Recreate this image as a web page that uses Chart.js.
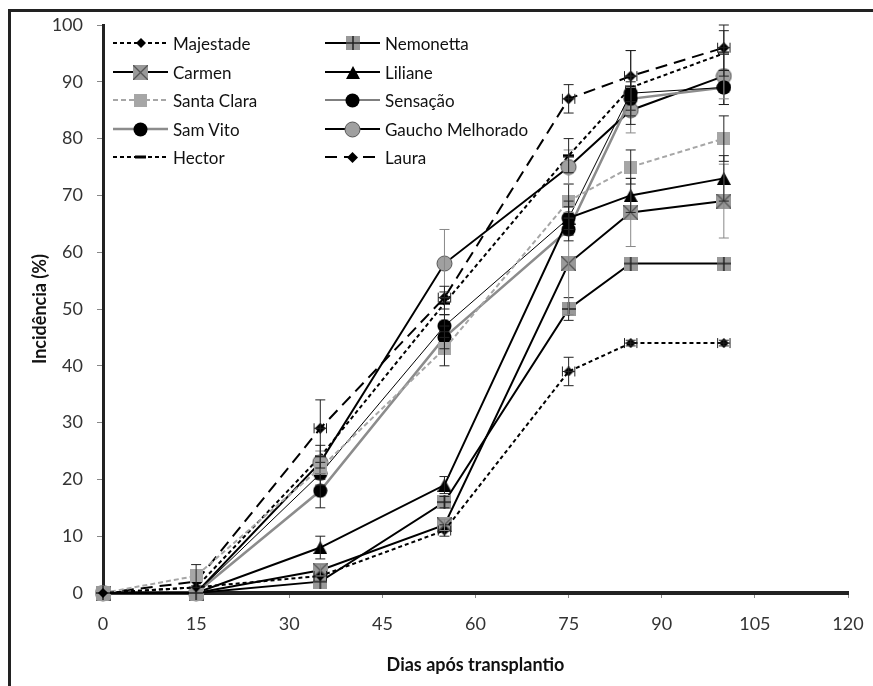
<!DOCTYPE html>
<html>
<head>
<meta charset="utf-8">
<script src="https://cdn.jsdelivr.net/npm/chart.js@4"></script>
<style>
  html, body { margin: 0; padding: 0; background: #fff; }
  #wrap { position: relative; width: 873px; height: 686px; overflow: hidden; }
  #frame { position: absolute; left: 8px; top: 9px; width: 900px; height: 700px;
           border-left: 3px solid #222; border-top: 3px solid #222; box-sizing: border-box; }
  #c { position: absolute; left: 0; top: 0; }
  .lg { position: absolute; height: 20px; display: flex; align-items: center;
        font-family: Lato, "Open Sans", sans-serif; font-size: 17px; color: #111; white-space: nowrap; }
  .lg canvas { margin-right: 5px; }
</style>
</head>
<body>
<div id="wrap">
  <div id="frame"></div>
  <canvas id="c" width="873" height="686"></canvas>
  <div id="legend"></div>
</div>
<script>
// ---------- data ----------
const days = [0, 15, 35, 55, 75, 85, 100];
const xTicks = [0, 15, 30, 45, 60, 75, 90, 105, 120];
const yTicks = [0, 10, 20, 30, 40, 50, 60, 70, 80, 90, 100];

const majestade     = [0, 1, 3, 11, 39, 44, 44];
const nemonetta     = [0, 0, 2, 16, 50, 58, 58];
const carmen        = [0, 0, 4, 12, 58, 67, 69];
const liliane       = [0, 0, 8, 19, 66, 70, 73];
const santaClara    = [0, 3, 22, 43, 69, 75, 80];
const sensacao      = [0, 0, 21, 47, 66, 88, 89];
const samVito       = [0, 0, 18, 45, 64, 87, 89];
const gaucho        = [0, 0, 23, 58, 75, 85, 91];
const hector        = [0, 1, 24, 51, 77, 89, 95];
const laura         = [0, 2, 29, 52, 87, 91, 96];

const majestadeErr  = [0, 0, 0, 1, 2.5, 0.5, 0.5];
const nemonettaErr  = [0, 0, 0, 1, 2, 0, 0];
const carmenErr     = [0, 0, 1, 1, 9, 6, 6.5];
const lilianeErr    = [0, 0, 2, 1.5, 3, 3, 4];
const santaClaraErr = [0, 2, 2, 3, 3, 3, 4];
const sensacaoErr   = [0, 0, 2, 2, 2, 3, 3];
const samVitoErr    = [0, 0, 3, 2, 2, 3, 3];
const gauchoErr     = [0, 0, 2, 6, 3, 4, 4];
const hectorErr     = [0, 0, 2, 2, 3, 6.5, 4];
const lauraErr      = [0, 0, 5, 2, 2.5, 4.5, 4];
const majestadeXErr = [0, 0, 1, 1, 1, 1, 1];
const lauraXErr     = [0, 0, 1, 1, 1, 1, 1];

const names = ['Majestade', 'Nemonetta', 'Carmen', 'Liliane', 'Santa Clara',
               'Sensação', 'Sam Vito', 'Gaucho Melhorado', 'Hector', 'Laura'];

// ---------- markers ----------
function mk(w, h, draw) {
  const c = document.createElement('canvas');
  c.width = w; c.height = h;
  draw(c.getContext('2d'), w, h);
  return c;
}
const diamond = (s) => mk(s, s, (g, w, h) => {
  g.fillStyle = '#000'; g.beginPath();
  g.moveTo(w / 2, 0); g.lineTo(w, h / 2); g.lineTo(w / 2, h); g.lineTo(0, h / 2); g.closePath(); g.fill();
});
const sqPlus = mk(14, 14, (g, w, h) => {
  g.fillStyle = '#999'; g.fillRect(0, 0, w, h);
  g.strokeStyle = '#222'; g.lineWidth = 1.5; g.beginPath();
  g.moveTo(w / 2, 0); g.lineTo(w / 2, h); g.moveTo(0, h / 2); g.lineTo(w, h / 2); g.stroke();
});
const sqX = mk(15, 15, (g, w, h) => {
  g.fillStyle = '#999'; g.fillRect(0, 0, w, h);
  g.strokeStyle = '#555'; g.lineWidth = 1.3; g.beginPath();
  g.moveTo(0, 0); g.lineTo(w, h); g.moveTo(w, 0); g.lineTo(0, h); g.stroke();
});
const sqGray = mk(13, 13, (g, w, h) => { g.fillStyle = '#a6a6a6'; g.fillRect(0, 0, w, h); });
const circBlack = mk(15, 15, (g, w, h) => {
  g.fillStyle = '#000'; g.beginPath(); g.arc(w / 2, h / 2, 7, 0, Math.PI * 2); g.fill();
});
const circGray = mk(17, 17, (g, w, h) => {
  g.fillStyle = '#a0a0a0'; g.strokeStyle = '#555'; g.lineWidth = 1;
  g.beginPath(); g.arc(w / 2, h / 2, 7.5, 0, Math.PI * 2); g.fill(); g.stroke();
});
const tri = mk(14, 13, (g, w, h) => {
  g.fillStyle = '#000'; g.beginPath();
  g.moveTo(w / 2, 0); g.lineTo(w, h); g.lineTo(0, h); g.closePath(); g.fill();
});
const dash = mk(11, 4, (g, w, h) => { g.fillStyle = '#000'; g.fillRect(0, 0.5, w, 3); });

const styles = [
  { c: '#000', w: 2,   d: [4, 3],  m: diamond(10), e: '#222' },
  { c: '#000', w: 2,   d: [],      m: sqPlus,      e: '#222' },
  { c: '#000', w: 2,   d: [],      m: sqX,         e: '#888' },
  { c: '#000', w: 2,   d: [],      m: tri,         e: '#222' },
  { c: '#a6a6a6', w: 2, d: [5, 3], m: sqGray,      e: '#222' },
  { c: '#000', w: 1,   d: [],      m: circBlack,   e: '#222' },
  { c: '#8c8c8c', w: 2.5, d: [],   m: circBlack,   e: '#222' },
  { c: '#000', w: 2,   d: [],      m: circGray,    e: '#888' },
  { c: '#000', w: 2,   d: [4, 3],  m: dash,        e: '#222' },
  { c: '#000', w: 2,   d: [12, 7], m: diamond(11), e: '#222' },
];
const seriesVals = [majestade, nemonetta, carmen, liliane, santaClara, sensacao, samVito, gaucho, hector, laura];
const seriesErr = [majestadeErr, nemonettaErr, carmenErr, lilianeErr, santaClaraErr, sensacaoErr, samVitoErr, gauchoErr, hectorErr, lauraErr];
const seriesXErr = [majestadeXErr, null, null, null, null, null, null, null, null, lauraXErr];

const datasets = names.map((n, k) => ({
  label: n,
  data: days.map((d, i) => ({ x: d, y: seriesVals[k][i] })),
  borderColor: styles[k].c,
  borderWidth: styles[k].w,
  borderDash: styles[k].d,
  pointStyle: styles[k].m,
  pointRadius: 7,
  tension: 0,
  fill: false,
  clip: false,
  yErr: seriesErr[k],
  xErr: seriesXErr[k],
  errColor: styles[k].e,
}));

// ---------- error bars plugin ----------
const errorBars = {
  id: 'errorBars',
  afterDatasetsDraw(chart) {
    const { ctx, chartArea: a, scales: { x, y } } = chart;
    ctx.save();
    ctx.beginPath(); ctx.rect(a.left, a.top - 1, a.right - a.left, a.bottom - a.top + 2); ctx.clip();
    ctx.lineWidth = 1;
    chart.data.datasets.forEach(ds => {
      ctx.strokeStyle = ds.errColor;
      ds.data.forEach((p, i) => {
        const px = x.getPixelForValue(p.x), py = y.getPixelForValue(p.y);
        const e = ds.yErr ? ds.yErr[i] : 0;
        if (e) {
          const y1 = y.getPixelForValue(p.y + e), y2 = y.getPixelForValue(p.y - e);
          ctx.beginPath();
          ctx.moveTo(px, y1); ctx.lineTo(px, y2);
          ctx.moveTo(px - 5, y1); ctx.lineTo(px + 5, y1);
          ctx.moveTo(px - 5, y2); ctx.lineTo(px + 5, y2);
          ctx.stroke();
        }
        const xe = ds.xErr ? ds.xErr[i] : 0;
        if (xe) {
          const x1 = x.getPixelForValue(p.x - xe), x2 = x.getPixelForValue(p.x + xe);
          ctx.beginPath();
          ctx.moveTo(x1, py); ctx.lineTo(x2, py);
          ctx.moveTo(x1, py - 5); ctx.lineTo(x1, py + 5);
          ctx.moveTo(x2, py - 5); ctx.lineTo(x2, py + 5);
          ctx.stroke();
        }
      });
    });
    ctx.restore();
  }
};

const tickFont = { family: 'Lato, "Open Sans", sans-serif', size: 18 };
const titleFont = { family: 'Lato, "Open Sans", sans-serif', size: 18, weight: 'bold' };

new Chart(document.getElementById('c'), {
  type: 'line',
  data: { datasets },
  options: {
    responsive: false,
    animation: false,
    events: [],
    layout: { padding: { top: 25, right: 25, left: 0, bottom: 0 } },
    plugins: { legend: { display: false }, tooltip: { enabled: false } },
    scales: {
      x: {
        type: 'linear', min: 0, max: 120,
        afterFit(s) { s.height = 686 - 593; s.paddingLeft = 0; s.paddingRight = 0; },
        afterBuildTicks(s) { s.ticks = xTicks.map(v => ({ value: v })); },
        ticks: { font: tickFont, color: '#333', padding: 15 },
        grid: { drawOnChartArea: false, drawTicks: true, tickLength: 5, color: '#888', lineWidth: 1 },
        border: { display: true, color: '#222', width: 4 },
        title: { display: true, text: 'Dias após transplantio', font: titleFont, color: '#111',
                 padding: { top: 0, bottom: 10 } },
      },
      y: {
        type: 'linear', min: 0, max: 100,
        afterFit(s) { s.width = 103; s.paddingTop = 0; s.paddingBottom = 0; },
        afterBuildTicks(s) { s.ticks = yTicks.map(v => ({ value: v })); },
        ticks: { font: tickFont, color: '#333', padding: 14 },
        grid: { drawOnChartArea: false, drawTicks: true, tickLength: 6, color: '#888', lineWidth: 1 },
        border: { display: true, color: '#222', width: 3 },
        title: { display: true, text: 'Incidência (%)', font: titleFont, color: '#111',
                 padding: { top: 29, bottom: 0 } },
      }
    }
  },
  plugins: [errorBars]
});

// ---------- legend (HTML) ----------
const lgPos = [
  [113, 43], [325, 43],
  [113, 72], [325, 72],
  [113, 100], [325, 100],
  [113, 129], [325, 129],
  [113, 157], [325, 157],
];
const legend = document.getElementById('legend');
names.forEach((n, k) => {
  const st = styles[k];
  const row = document.createElement('div');
  row.className = 'lg';
  row.style.left = lgPos[k][0] + 'px';
  row.style.top = (lgPos[k][1] - 10) + 'px';
  const cv = mk(55, 20, (g, w, h) => {
    g.strokeStyle = st.c; g.lineWidth = st.w; g.setLineDash(st.d);
    g.beginPath(); g.moveTo(0, h / 2); g.lineTo(w, h / 2); g.stroke();
    g.drawImage(st.m, Math.round(w / 2 - st.m.width / 2), Math.round(h / 2 - st.m.height / 2));
  });
  row.appendChild(cv);
  const t = document.createElement('span');
  t.textContent = n;
  row.appendChild(t);
  legend.appendChild(row);
});
</script>
</body>
</html>
